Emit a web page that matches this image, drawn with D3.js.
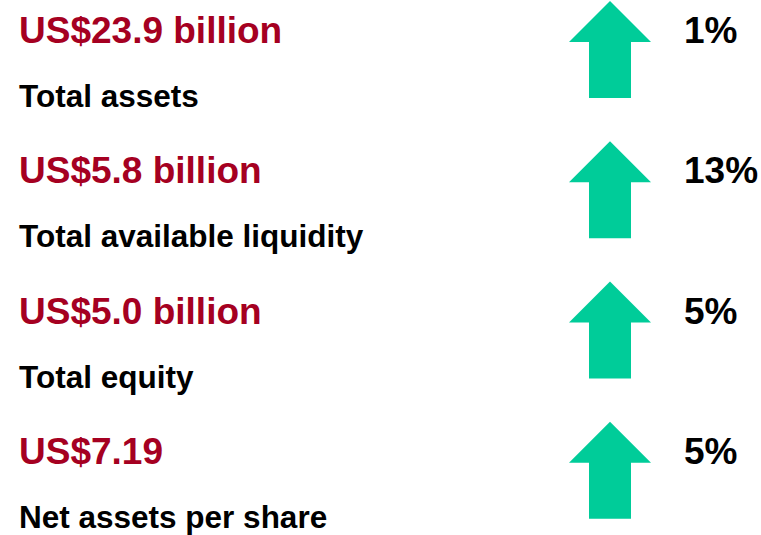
<!DOCTYPE html>
<meta charset="utf-8">
<style>
  body { margin: 0; background: #fff; }
  text { font-family: "Liberation Sans", Arial, sans-serif; font-weight: bold; }
  .value { fill: #a50021; font-size: 37px; }
  .label { fill: #000; font-size: 31.5px; }
  .change { fill: #000; font-size: 37px; }
  .arrow { fill: #00cc99; }
</style>
<body>
<script src="https://d3js.org/d3.v7.min.js"></script>
<script>

  // data
  var values = ["US$23.9 billion", "US$5.8 billion", "US$5.0 billion", "US$7.19"];
  var labels = ["Total assets", "Total available liquidity", "Total equity", "Net assets per share"];
  var changes = [1, 13, 5, 5];

  var width = 761, height = 535;

  var rows = labels.map(function (d, i) {
    return { label: d, value: values[i], change: changes[i] };
  });

  var svg = d3.select("body").append("svg")
    .attr("width", width)
    .attr("height", height);

  // one band per metric
  var y = d3.scaleBand()
    .domain(labels)
    .range([0, 561]);

  // arrow size
  var aw = 82, ah = 97, headH = 41, shaftW = 42, ax = 610;

  var g = svg.selectAll(".row")
    .data(rows)
    .enter().append("g")
    .attr("class", "row")
    .attr("transform", function (d) { return "translate(0," + y(d.label) + ")"; });

  g.append("text")
    .attr("class", "value")
    .attr("x", 19)
    .attr("y", 43)
    .text(function (d) { return d.value; });

  g.append("text")
    .attr("class", "label")
    .attr("x", 19)
    .attr("y", 107)
    .text(function (d) { return d.label; });

  // up arrow = increase
  g.append("path")
    .attr("class", "arrow")
    .attr("d", function (d) {
      var top = 1;
      var l = ax - aw / 2, r = ax + aw / 2;
      return d3.line()([
        [ax, top], [r, top + headH], [ax + shaftW / 2, top + headH],
        [ax + shaftW / 2, top + ah], [ax - shaftW / 2, top + ah],
        [ax - shaftW / 2, top + headH], [l, top + headH]
      ]) + "Z";
    });

  g.append("text")
    .attr("class", "change")
    .attr("x", 684)
    .attr("y", 43)
    .text(function (d) { return d.change + "%"; });

</script>
</body>
